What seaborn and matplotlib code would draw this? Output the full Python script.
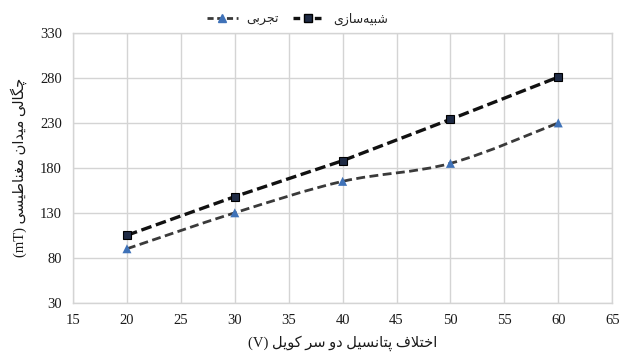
import numpy as np
import pandas as pd
import matplotlib
matplotlib.use("Agg")
import matplotlib.pyplot as plt
from matplotlib.path import Path
from matplotlib.patches import PathPatch
from matplotlib.lines import Line2D
import seaborn as sns

# Coil voltage (V) and magnetic flux density (mT)
voltage = [20, 30, 40, 50, 60]
simulated = [105, 148, 188, 234, 281]
measured = [90, 130, 165, 185, 230]

label_sim = "شبیه‌سازی"
label_exp = "تجربی"
xlabel_fa = "اختلاف پتانسیل دو سر کویل"
ylabel_fa = "چگالی میدان مغناطیسی"

x_ticks = [15, 20, 25, 30, 35, 40, 45, 50, 55, 60, 65]
y_ticks = [30, 80, 130, 180, 230, 280, 330]

# matplotlib does not shape Arabic script: join letters with their
# presentation forms and lay the word out right-to-left.
FORMS = {
    "ا": (0xFE8D, 0xFE8E, None, None),
    "ب": (0xFE8F, 0xFE90, 0xFE91, 0xFE92),
    "پ": (0xFB56, 0xFB57, 0xFB58, 0xFB59),
    "ت": (0xFE95, 0xFE96, 0xFE97, 0xFE98),
    "ج": (0xFE9D, 0xFE9E, 0xFE9F, 0xFEA0),
    "چ": (0xFB7A, 0xFB7B, 0xFB7C, 0xFB7D),
    "خ": (0xFEA5, 0xFEA6, 0xFEA7, 0xFEA8),
    "د": (0xFEA9, 0xFEAA, None, None),
    "ر": (0xFEAD, 0xFEAE, None, None),
    "ز": (0xFEAF, 0xFEB0, None, None),
    "س": (0xFEB1, 0xFEB2, 0xFEB3, 0xFEB4),
    "ش": (0xFEB5, 0xFEB6, 0xFEB7, 0xFEB8),
    "ط": (0xFEC1, 0xFEC2, 0xFEC3, 0xFEC4),
    "غ": (0xFECD, 0xFECE, 0xFECF, 0xFED0),
    "ف": (0xFED1, 0xFED2, 0xFED3, 0xFED4),
    "ک": (0xFB8E, 0xFB8F, 0xFB90, 0xFB91),
    "گ": (0xFB92, 0xFB93, 0xFB94, 0xFB95),
    "ل": (0xFEDD, 0xFEDE, 0xFEDF, 0xFEE0),
    "م": (0xFEE1, 0xFEE2, 0xFEE3, 0xFEE4),
    "ن": (0xFEE5, 0xFEE6, 0xFEE7, 0xFEE8),
    "ه": (0xFEE9, 0xFEEA, 0xFEEB, 0xFEEC),
    "و": (0xFEED, 0xFEEE, None, None),
    "ی": (0xFBFC, 0xFBFD, 0xFBFE, 0xFBFF),
}


def shape_rtl(text):
    chars = list(text)
    out = []
    i = 0
    n = len(chars)

    def joins_left(c):
        return c in FORMS and FORMS[c][2] is not None

    while i < n:
        c = chars[i]
        prev = chars[i - 1] if i > 0 else None
        nxt = chars[i + 1] if i + 1 < n else None
        jp = prev is not None and joins_left(prev)
        if c == "ل" and nxt == "ا":
            out.append(chr(0xFEFC if jp else 0xFEFB))
            i += 2
            continue
        if c in FORMS:
            iso, fin, ini, med = FORMS[c]
            jn = ini is not None and nxt in FORMS
            if jp and jn:
                out.append(chr(med))
            elif jp:
                out.append(chr(fin))
            elif jn:
                out.append(chr(ini))
            else:
                out.append(chr(iso))
        elif c != "\u200c":
            out.append(c)
        i += 1
    return "".join(reversed(out))


sns.set_theme(style="white")
plt.rcParams["font.family"] = ["Liberation Serif", "DejaVu Sans"]

fig = plt.figure(figsize=(6.19, 3.61), dpi=100)
ax = fig.add_axes([0.118, 0.1615, 0.871, 0.747])

df = pd.DataFrame({"voltage": voltage, "simulated": simulated, "measured": measured})

grid_c = "#d4d4d4"
sim_line_c = "#111111"
exp_line_c = "#3a3a3a"
sq_face = "#1f2b45"
tri_face = "#3f72b8"
text_c = "#1a1a1a"

# simulation: straight dashed segments with square markers
sns.lineplot(data=df, x="voltage", y="simulated", ax=ax, color=sim_line_c,
             linewidth=2.4, linestyle=(0, (3.2, 1.4)), marker="s",
             markersize=6.2, markerfacecolor=sq_face, markeredgecolor="black",
             markeredgewidth=0.8, zorder=3)

# measurement: smoothed dashed curve (cubic Bezier through the points)
pts = np.column_stack([voltage, measured]).astype(float)
ext = np.vstack([pts[0], pts, pts[-1]])
verts = [tuple(pts[0])]
codes = [Path.MOVETO]
for k in range(len(pts) - 1):
    p0, p1, p2, p3 = ext[k], ext[k + 1], ext[k + 2], ext[k + 3]
    c1 = p1 + (p2 - p0) / 6.0
    c2 = p2 - (p3 - p1) / 6.0
    verts += [tuple(c1), tuple(c2), tuple(p2)]
    codes += [Path.CURVE4] * 3
curve = PathPatch(Path(verts, codes), facecolor="none", edgecolor=exp_line_c,
                  linewidth=2.0, linestyle=(0, (3.2, 1.6)), zorder=2)
ax.add_patch(curve)
sns.scatterplot(data=df, x="voltage", y="measured", ax=ax, marker="^", s=42,
                color=tri_face, edgecolor="none", zorder=4)

ax.set_xlim(15, 65)
ax.set_ylim(30, 330)
ax.set_xticks(x_ticks)
ax.set_yticks(y_ticks)
ax.grid(True, color=grid_c, linewidth=1.0)
for s in ax.spines.values():
    s.set_color(grid_c)
    s.set_linewidth(1.0)
ax.tick_params(axis="both", length=0, labelsize=10.5, colors=text_c, pad=8)
for lab in ax.get_xticklabels() + ax.get_yticklabels():
    lab.set_family("Liberation Serif")

ax.set_xlabel("(V) " + shape_rtl(xlabel_fa), fontsize=10.5, color=text_c,
              labelpad=6)
ax.set_ylabel("(mT) " + shape_rtl(ylabel_fa), fontsize=10.5, color=text_c,
              labelpad=9)

handles = [
    Line2D([], [], color=exp_line_c, linewidth=2.0, linestyle=(0, (2.2, 1.3)),
           marker="^", markersize=6, markerfacecolor=tri_face,
           markeredgecolor=tri_face),
    Line2D([], [], color=sim_line_c, linewidth=2.4, linestyle=(0, (2.0, 1.2)),
           marker="s", markersize=6, markerfacecolor=sq_face,
           markeredgecolor="black"),
]
fig.legend(handles, [shape_rtl(label_exp), shape_rtl(label_sim)], loc="center",
           bbox_to_anchor=(0.48, 0.947), ncol=2, frameon=False, fontsize=9,
           handlelength=2.5, handletextpad=0.7, columnspacing=1.1)

fig.savefig("out.png", dpi=100)
